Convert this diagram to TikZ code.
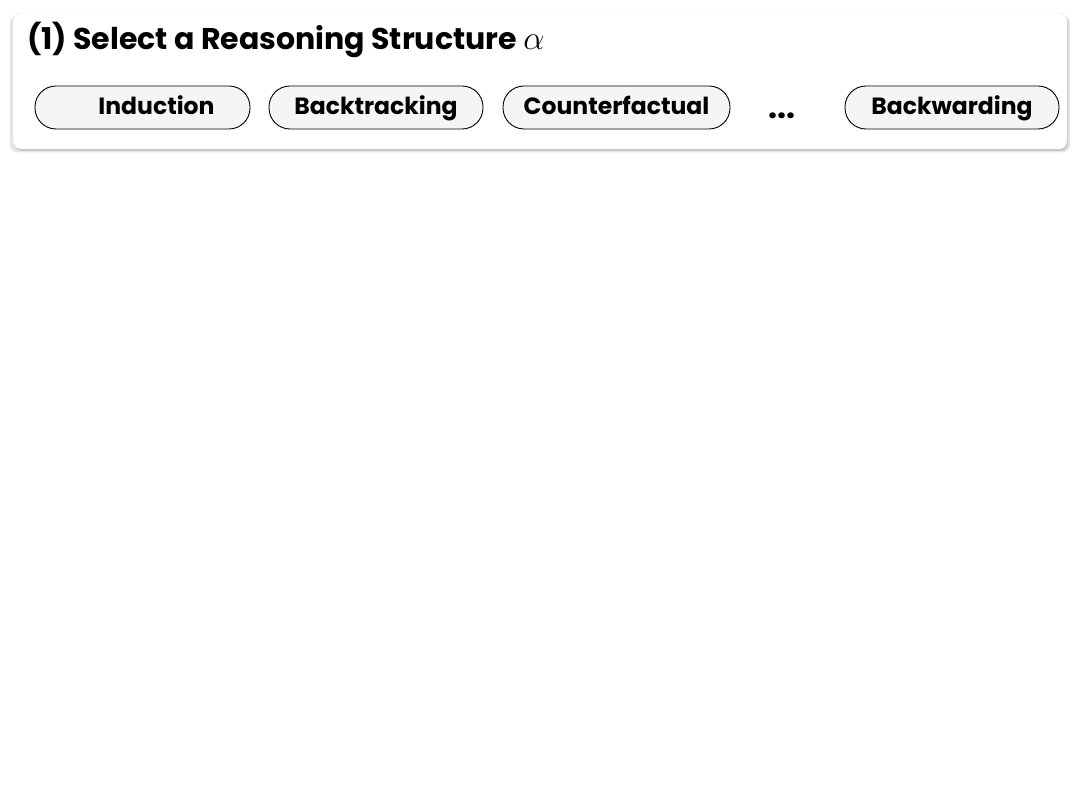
\documentclass[tikz,border=0pt]{standalone}
\usepackage{fontspec}
\usepackage{graphicx}
\setmainfont{Poppins}
\usetikzlibrary{shadows}
\tikzset{
  panel/.style={draw=black!10,fill=white,rounded corners=8pt,
    drop shadow={shadow xshift=0pt,shadow yshift=-3pt,shadow scale=1.006,opacity=.1,fill=black},
    drop shadow={shadow xshift=1pt,shadow yshift=-2pt,opacity=.14,fill=black}},
  pill/.style={draw=black,fill=black!4,line width=.9pt,rounded corners=21pt,
    minimum height=43pt,font=\fontsize{23.5}{28}\selectfont\bfseries,inner sep=0pt,
    text height=17pt,text depth=3pt},
}
\begin{document}
\begin{tikzpicture}[x=1pt,y=-1pt]
\useasboundingbox (0,0) rectangle (1080,810);
\node[panel,minimum width=1054pt,minimum height=136pt] (box) at (540,81) {};
\node[anchor=base west,inner sep=0pt,font=\fontsize{30}{34}\selectfont\bfseries] (title) at (27,50)
  {(1) Select a Reasoning Structure \scalebox{1.35}{$\alpha$}};

\node[pill,minimum width=215pt] (ind) at (142.5,107.5) {\hspace*{28pt}Induction};
\node[pill,minimum width=214pt] (back) at (376,107.5) {Backtracking};
\node[pill,minimum width=227pt] (counter) at (616.5,107.5) {Counterfactual};
\node[inner sep=0pt,font=\fontsize{32}{34}\selectfont\bfseries] (dots) at (782,116) {...};
\node[pill,minimum width=214pt] (backward) at (952,107.5) {Backwarding};
\end{tikzpicture}
\end{document}
